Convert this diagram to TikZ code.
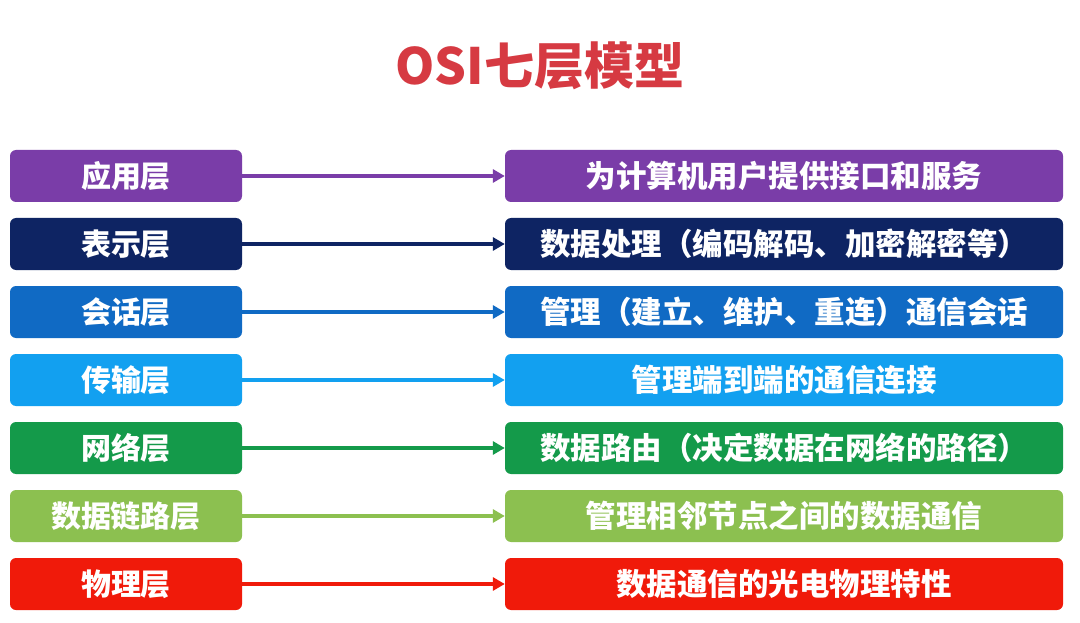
\documentclass[tikz,border=0pt]{standalone}
\usepackage{fontspec}
\newfontfamily\cjk{Noto Sans CJK SC}
\usetikzlibrary{arrows.meta}
\definecolor{cA}{RGB}{122,61,168}
\definecolor{cB}{RGB}{14,36,99}
\definecolor{cC}{RGB}{16,106,196}
\definecolor{cD}{RGB}{18,160,240}
\definecolor{cE}{RGB}{20,154,74}
\definecolor{cF}{RGB}{140,192,80}
\definecolor{cG}{RGB}{240,26,10}
\definecolor{ctitle}{RGB}{214,58,66}
\tikzset{
  lbox/.style={fill=#1, rounded corners=6pt, minimum width=232pt, minimum height=52pt, inner sep=0pt, text=white, font=\cjk\bfseries\fontsize{30}{30}\selectfont},
  rbox/.style={fill=#1, rounded corners=6pt, minimum width=558pt, minimum height=52pt, inner sep=0pt, text=white, font=\cjk\bfseries\fontsize{30.5}{30.5}\selectfont},
  arr/.style={draw=#1, line width=3.2pt, -{Triangle[length=12pt,width=13pt]}}
}
\begin{document}
\begin{tikzpicture}[x=1pt,y=-1pt]
\useasboundingbox[fill=white] (0,0) rectangle (1080,623);
\node[text=ctitle, font=\cjk\bfseries\fontsize{50}{50}\selectfont] (title) at (540,66) {OSI七层模型};
\node[lbox=cA] (l1) at (126,176) {应用层};
\node[lbox=cB] (l2) at (126,244) {表示层};
\node[lbox=cC] (l3) at (126,312) {会话层};
\node[lbox=cD] (l4) at (126,380) {传输层};
\node[lbox=cE] (l5) at (126,448) {网络层};
\node[lbox=cF] (l6) at (126,516) {数据链路层};
\node[lbox=cG] (l7) at (126,584) {物理层};
\node[rbox=cA] (r1) at (784,176) {为计算机用户提供接口和服务};
\node[rbox=cB] (r2) at (784,244) {数据处理（编码解码、加密解密等）};
\node[rbox=cC] (r3) at (784,312) {管理（建立、维护、重连）通信会话};
\node[rbox=cD] (r4) at (784,380) {管理端到端的通信连接};
\node[rbox=cE] (r5) at (784,448) {数据路由（决定数据在网络的路径）};
\node[rbox=cF] (r6) at (784,516) {管理相邻节点之间的数据通信};
\node[rbox=cG] (r7) at (784,584) {数据通信的光电物理特性};
\draw[arr=cA] (l1.east) -- (r1.west);
\draw[arr=cB] (l2.east) -- (r2.west);
\draw[arr=cC] (l3.east) -- (r3.west);
\draw[arr=cD] (l4.east) -- (r4.west);
\draw[arr=cE] (l5.east) -- (r5.west);
\draw[arr=cF] (l6.east) -- (r6.west);
\draw[arr=cG] (l7.east) -- (r7.west);
\end{tikzpicture}
\end{document}
